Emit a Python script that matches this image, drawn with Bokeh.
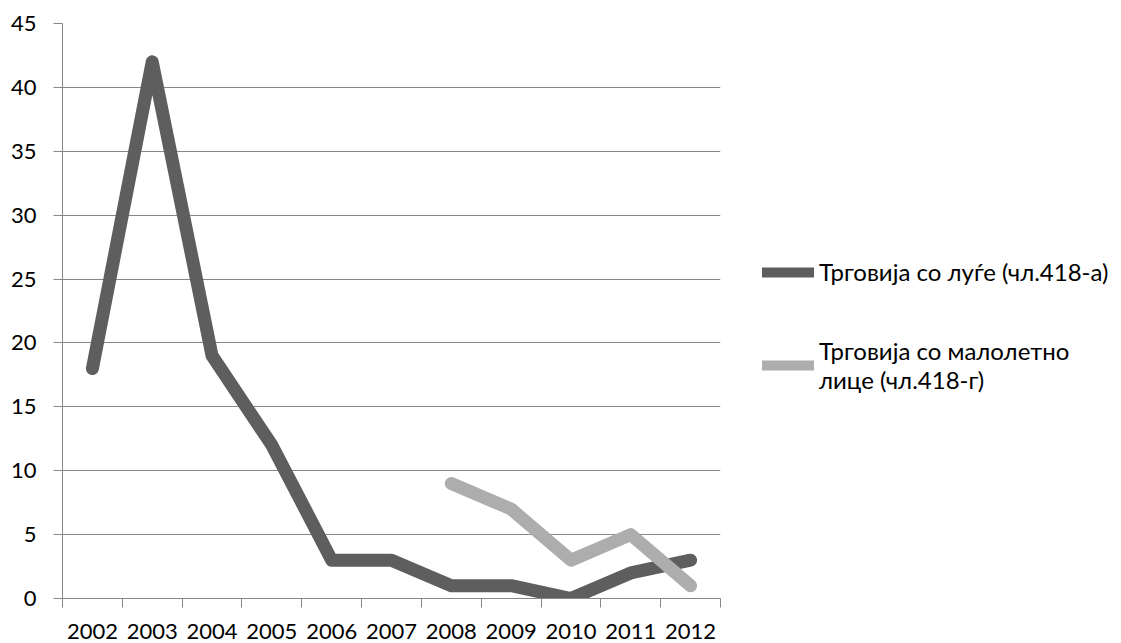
from bokeh.plotting import figure
from bokeh.models import FixedTicker, Legend, LegendItem, ColumnDataSource
from bokeh.embed import file_html
from bokeh.resources import INLINE

years = ["2002", "2003", "2004", "2005", "2006", "2007", "2008", "2009", "2010", "2011", "2012"]
trafficking_people = [18, 42, 19, 12, 3, 3, 1, 1, 0, 2, 3]
minor_years = ["2008", "2009", "2010", "2011", "2012"]
trafficking_minor = [9, 7, 3, 5, 1]
y_ticks = [0, 5, 10, 15, 20, 25, 30, 35, 40, 45]
label_1 = "Трговија со луѓе (чл.418-а)"
label_2 = "Трговија со малолетно\nлице (чл.418-г)"

FONT = "Lato"
FS = "22px"
DARK = "#5e5e5e"
LIGHT = "#adadad"
pos = {y: i + 0.5 for i, y in enumerate(years)}

p = figure(frame_width=658, frame_height=575, output_backend="svg", toolbar_location=None,
           x_range=(0, len(years)), y_range=(0, 45),
           min_border_left=62, min_border_top=23, min_border_bottom=45, min_border_right=0)
p.outline_line_color = None
p.background_fill_color = "white"

src1 = ColumnDataSource(dict(x=[pos[y] for y in years], y=trafficking_people))
src2 = ColumnDataSource(dict(x=[pos[y] for y in minor_years], y=trafficking_minor))
# thinner copies (hidden beneath the main lines) used as legend keys
k1 = p.line("x", "y", source=src1, line_color=DARK, line_width=10,
            line_join="round", line_cap="round")
k2 = p.line("x", "y", source=src2, line_color=LIGHT, line_width=10,
            line_join="round", line_cap="round")
r1 = p.line("x", "y", source=src1, line_color=DARK, line_width=13,
            line_join="round", line_cap="round")
r2 = p.line("x", "y", source=src2, line_color=LIGHT, line_width=13,
            line_join="round", line_cap="round")

# x axis: boundary ticks as minor ticks, labels at centers
xt = FixedTicker(ticks=[i + 0.5 for i in range(len(years))],
                 minor_ticks=list(range(len(years) + 1)))
p.xaxis.ticker = xt
p.xaxis.major_label_overrides = {i + 0.5: y for i, y in enumerate(years)}
p.xaxis.major_tick_out = 0
p.xaxis.major_tick_in = 0
p.xaxis.minor_tick_out = 9
p.xaxis.minor_tick_in = 0
p.xaxis.minor_tick_line_color = "#878787"
p.xaxis.axis_line_color = "#878787"
p.xaxis.major_label_standoff = 16
p.xgrid.grid_line_color = None

p.yaxis.ticker = FixedTicker(ticks=y_ticks)
p.yaxis.major_tick_out = 9
p.yaxis.major_tick_in = 0
p.yaxis.minor_tick_line_color = None
p.yaxis.major_tick_line_color = "#878787"
p.yaxis.axis_line_color = "#878787"
p.yaxis.major_label_standoff = 17
p.ygrid.grid_line_color = "#878787"
p.ygrid.ticker = FixedTicker(ticks=y_ticks)

for ax in (p.xaxis, p.yaxis):
    ax.major_label_text_font = FONT
    ax.major_label_text_font_size = FS
    ax.major_label_text_color = "black"

legend = Legend(items=[LegendItem(label=label_1, renderers=[k1]),
                       LegendItem(label=label_2, renderers=[k2])],
                location=(42, 204), orientation="vertical")
legend.border_line_color = None
legend.background_fill_alpha = 0
legend.label_text_font = FONT
legend.label_text_font_size = "24px"
legend.label_text_color = "black"
legend.label_text_line_height = 1.85
legend.glyph_width = 52
legend.glyph_height = 20
legend.label_standoff = 5
legend.spacing = 50
legend.padding = 0
legend.margin = 0
p.add_layout(legend, "right")

open("out.html", "w").write(file_html(p, INLINE))
